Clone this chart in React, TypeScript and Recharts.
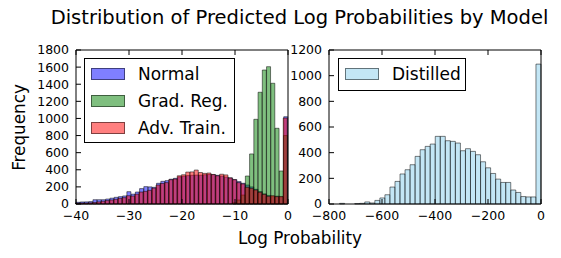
import React from 'react';
import { BarChart, Bar, XAxis, YAxis } from 'recharts';

// left panel: 50 bins of 0.8 from -40 to 0
const LEFT_START = -40;
const LEFT_BIN = 0.8;
const normal = [
  20, 24, 25, 28, 50, 50, 50, 58, 68, 78, 86, 94, 144, 115, 140, 180, 203, 200, 195, 242,
  265, 273, 290, 300, 318, 326, 332, 336, 338, 336, 342, 346, 343, 335, 326, 315, 305, 285, 262, 242,
  222, 200, 172, 145, 118, 100, 86, 92, 82, 1020,
];
const gradReg = [
  0, 0, 0, 0, 0, 0, 0, 0, 0, 0, 0, 0, 0, 0, 0, 0, 0, 0, 0, 0,
  0, 0, 0, 0, 0, 0, 0, 0, 0, 0, 0, 0, 0, 0, 0, 0, 0, 15, 47, 105,
  327, 585, 990, 1306, 1566, 1605, 1411, 885, 386, 800,
];
const advTrain = [
  10, 12, 12, 14, 18, 25, 32, 40, 47, 55, 66, 74, 97, 93, 115, 140, 148, 160, 185, 222,
  240, 250, 284, 292, 330, 342, 373, 375, 397, 368, 358, 362, 345, 330, 348, 340, 305, 284, 250, 235,
  195, 183, 164, 137, 113, 90, 97, 86, 88, 1005,
];

// right panel: 42 bins of 19 from -798 to 0
const RIGHT_START = -798;
const RIGHT_BIN = 19;
const distilled = [
  0, 0, 5, 0, 0, 3, 5, 16, 8, 28, 47, 72, 132, 176, 234, 267, 306, 371, 423, 449,
  467, 527, 527, 493, 488, 475, 415, 431, 410, 384, 329, 282, 238, 194, 168, 168, 109, 90, 58, 55,
  55, 1090,
];

const leftXTicks = [-40, -30, -20, -10, 0];
const leftYTicks = [0, 200, 400, 600, 800, 1000, 1200, 1400, 1600, 1800];
const rightXTicks = [-800, -600, -400, -200, 0];
const rightYTicks = [0, 200, 400, 600, 800, 1000, 1200];

const leftSeries = [
  { key: 'normal', name: 'Normal', color: '#0000ff' },
  { key: 'gradReg', name: 'Grad. Reg.', color: '#008000' },
  { key: 'advTrain', name: 'Adv. Train.', color: '#ff0000' },
];
const rightSeries = [{ key: 'distilled', name: 'Distilled', color: '#87ceeb' }];

const leftData = normal.map((v, i) => ({
  x: LEFT_START + LEFT_BIN * (i + 0.5),
  normal: v,
  gradReg: gradReg[i],
  advTrain: advTrain[i],
}));
const rightData = distilled.map((v, i) => ({
  x: RIGHT_START + RIGHT_BIN * (i + 0.5),
  distilled: v,
}));

const FONT = 'DejaVu Sans';
const tickStyle = { fontFamily: FONT, fontSize: 12.5, fill: '#000' };
const fmt = (v: number) => String(v).replace('-', '\u2212');
const blank = () => '';

const hexToRgba = (hex: string, a: number) => {
  const n = parseInt(hex.slice(1), 16);
  return `rgba(${(n >> 16) & 255}, ${(n >> 8) & 255}, ${n & 255}, ${a})`;
};

type Series = { key: string; name: string; color: string };

const Panel = ({ data, series, domain, xTicks, yTicks, yMax, width, margin }: {
  data: any[]; series: Series[]; domain: number[]; xTicks: number[]; yTicks: number[];
  yMax: number; width: number; margin: any;
}) => (
  <BarChart width={width} height={258} data={data} margin={margin} barCategoryGap={0} barGap="-100%">
    <XAxis xAxisId="b" dataKey="x" type="number" domain={domain} ticks={xTicks} interval={0}
      tickSize={-5} tickMargin={12} height={30} stroke="#000" tick={tickStyle} tickFormatter={fmt} />
    <XAxis xAxisId="t" orientation="top" dataKey="x" type="number" domain={domain} ticks={xTicks} interval={0}
      tickSize={-5} height={1} stroke="#000" tickFormatter={blank} />
    <YAxis yAxisId="l" type="number" domain={[0, yMax]} ticks={yTicks} interval={0}
      tickSize={-5} tickMargin={12} width={40} stroke="#000" tick={tickStyle} />
    <YAxis yAxisId="r" orientation="right" type="number" domain={[0, yMax]} ticks={yTicks} interval={0}
      tickSize={-5} width={1} stroke="#000" tickFormatter={blank} />
    {series.map((s) => (
      <Bar key={s.key} xAxisId="b" yAxisId="l" dataKey={s.key} name={s.name}
        fill={s.color} fillOpacity={0.5} stroke="#000" strokeOpacity={0.5} strokeWidth={1}
        isAnimationActive={false} />
    ))}
  </BarChart>
);

const LegendBox = ({ series, left, top, width, height }: {
  series: Series[]; left: number; top: number; width: number; height: number;
}) => (
  <div style={{ position: 'absolute', left, top, width, height, border: '1px solid #000', background: '#fff', boxSizing: 'border-box' }}>
    {series.map((s, i) => (
      <div key={s.key} style={{ position: 'absolute', left: 6, top: 8 + i * 27, height: 14, display: 'flex', alignItems: 'center', whiteSpace: 'nowrap' }}>
        <div style={{ width: 34, height: 12, background: hexToRgba(s.color, 0.5), border: '1px solid rgba(0,0,0,0.5)', boxSizing: 'border-box' }} />
        <span style={{ marginLeft: 13, fontFamily: FONT, fontSize: 17, lineHeight: '14px' }}>{s.name}</span>
      </div>
    ))}
  </div>
);

export default function App() {
  return (
    <div style={{ position: 'absolute', left: 0, top: 0, width: 561, height: 258, background: '#fff', overflow: 'hidden' }}>
      <div style={{ position: 'absolute', left: 0, top: 8, width: 599, textAlign: 'center', fontFamily: FONT, fontSize: 19.5, lineHeight: '20px', whiteSpace: 'nowrap' }}>
        Distribution of Predicted Log Probabilities by Model
      </div>
      <div style={{ position: 'absolute', left: 0, top: 0 }}>
        <Panel data={leftData} series={leftSeries} domain={[-40, 0]} xTicks={leftXTicks} yTicks={leftYTicks}
          yMax={1800} width={300} margin={{ top: 49, right: 11, bottom: 24, left: 36 }} />
      </div>
      <div style={{ position: 'absolute', left: 280, top: 0 }}>
        <Panel data={rightData} series={rightSeries} domain={[-800, 0]} xTicks={rightXTicks} yTicks={rightYTicks}
          yMax={1200} width={281} margin={{ top: 49, right: 19, bottom: 24, left: 9 }} />
      </div>
      <LegendBox series={leftSeries} left={84} top={58} width={151} height={85} />
      <LegendBox series={rightSeries} left={338} top={58} width={128} height={33} />
      <div style={{ position: 'absolute', left: 0, top: 230, width: 600, textAlign: 'center', fontFamily: FONT, fontSize: 16.8, lineHeight: '17px' }}>
        Log Probability
      </div>
      <div style={{ position: 'absolute', left: -41, top: 119, width: 120, height: 17, textAlign: 'center', fontFamily: FONT, fontSize: 16.8, lineHeight: '17px', transform: 'rotate(-90deg)' }}>
        Frequency
      </div>
    </div>
  );
}
